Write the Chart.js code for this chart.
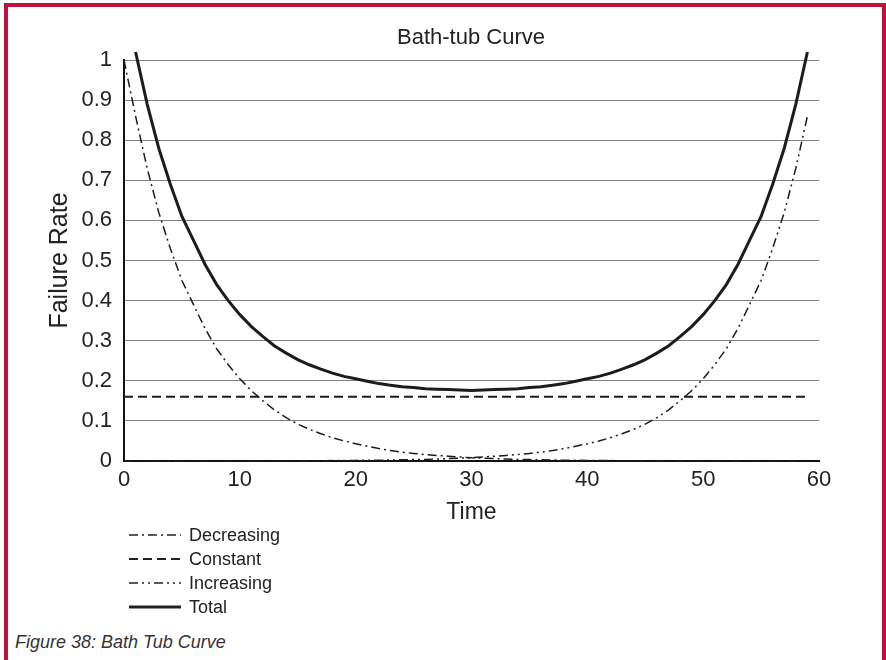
<!DOCTYPE html>
<html>
<head>
<meta charset="utf-8">
<script src="https://cdn.jsdelivr.net/npm/chart.js@4/dist/chart.umd.min.js"></script>
<style>
  html, body { margin: 0; padding: 0; background: #fff; }
  body { width: 886px; height: 660px; position: relative; overflow: hidden; font-family: "Liberation Sans", Arial, sans-serif; color: #222; }
  #frame { position: absolute; left: 4px; top: 3px; width: 882px; height: 680px; box-sizing: border-box;
           border-top: 4px solid #C0103C; border-left: 4px solid #C0103C; border-right: 4px solid #C0103C; }
  #wrap { position: absolute; left: 0; top: 0; width: 886px; height: 530px; }
  #title { position: absolute; left: 271px; width: 400px; top: 24px; text-align: center; font-size: 22px; line-height: 26px; }
  .lg { position: absolute; left: 129px; height: 24px; font-size: 18px; line-height: 24px; white-space: nowrap; }
  .lg svg { position: absolute; left: 0; top: 10px; }
  .lg span { position: absolute; left: 60px; top: 0; }
  #caption { position: absolute; left: 15px; top: 631px; font-size: 18px; line-height: 22px; font-style: italic; color: #333; }
</style>
</head>
<body>
<div id="frame"></div>
<div id="wrap"><canvas id="c" width="886" height="530"></canvas></div>
<div id="title">Bath-tub Curve</div>
<div class="lg" style="top:523px"><svg width="52" height="4"><line x1="0" y1="2" x2="52" y2="2" stroke="#222" stroke-width="1.6" stroke-dasharray="9,4,2,4"/></svg><span>Decreasing</span></div>
<div class="lg" style="top:547px"><svg width="52" height="4"><line x1="0" y1="2" x2="52" y2="2" stroke="#222" stroke-width="2" stroke-dasharray="9,5"/></svg><span>Constant</span></div>
<div class="lg" style="top:571px"><svg width="52" height="4"><line x1="0" y1="2" x2="52" y2="2" stroke="#222" stroke-width="1.6" stroke-dasharray="9,4,2,4,2,4"/></svg><span>Increasing</span></div>
<div class="lg" style="top:595px"><svg width="52" height="4"><line x1="0" y1="2" x2="52" y2="2" stroke="#222" stroke-width="3"/></svg><span>Total</span></div>
<div id="caption">Figure 38: Bath Tub Curve</div>
<script>
const time = [0,1,2,3,4,5,6,7,8,9,10,11,12,13,14,15,16,17,18,19,20,21,22,23,24,25,26,27,28,29,
  30,31,32,33,34,35,36,37,38,39,40,41,42,43,44,45,46,47,48,49,50,51,52,53,54,55,56,57,58,59];
const decreasing = [1.00,0.86,0.73,0.62,0.53,0.45,0.39,0.33,0.28,0.24,0.205,0.175,0.15,0.127,0.108,0.092,0.079,0.068,0.058,0.05,
  0.043,0.037,0.031,0.026,0.022,0.019,0.016,0.014,0.012,0.01,0.008,0.007,0.006,0.005,0.004,0.0035,0.003,0.0025,0.002,0.0018,
  0.0015,0.0012,0.001,0.0008,0.0007,0.0006,0.0005,0.0004,0.0003,0.0003,0.0002,0.0002,0.0001,0.0001,0.0001,0.0001,0,0,0,0];
const constant = [0.16,0.16,0.16,0.16,0.16,0.16,0.16,0.16,0.16,0.16,0.16,0.16,0.16,0.16,0.16,0.16,0.16,0.16,0.16,0.16,
  0.16,0.16,0.16,0.16,0.16,0.16,0.16,0.16,0.16,0.16,0.16,0.16,0.16,0.16,0.16,0.16,0.16,0.16,0.16,0.16,
  0.16,0.16,0.16,0.16,0.16,0.16,0.16,0.16,0.16,0.16,0.16,0.16,0.16,0.16,0.16,0.16,0.16,0.16,0.16,0.16];
const increasing = [0,0,0,0,0,0.0001,0.0001,0.0001,0.0001,0.0002,0.0002,0.0003,0.0003,0.0004,0.0005,0.0006,0.0007,0.0008,0.001,0.0012,
  0.0015,0.0018,0.002,0.0025,0.003,0.0035,0.004,0.005,0.006,0.007,0.008,0.01,0.012,0.014,0.016,0.019,0.022,0.026,0.031,0.037,
  0.043,0.05,0.058,0.068,0.079,0.092,0.108,0.127,0.15,0.175,0.205,0.24,0.28,0.33,0.39,0.45,0.53,0.62,0.73,0.86];
const total = [null,1.02,0.89,0.78,0.69,0.61,0.55,0.49,0.44,0.40,0.365,0.335,0.31,0.287,0.269,0.253,0.240,0.229,0.219,0.211,
  0.205,0.199,0.193,0.189,0.185,0.183,0.180,0.179,0.178,0.177,0.176,0.177,0.178,0.179,0.180,0.183,0.185,0.189,0.193,0.199,
  0.205,0.211,0.219,0.229,0.240,0.253,0.269,0.287,0.31,0.335,0.365,0.40,0.44,0.49,0.55,0.61,0.69,0.78,0.89,1.02];
const xTicks = [0,10,20,30,40,50,60];
const yTicks = [0,0.1,0.2,0.3,0.4,0.5,0.6,0.7,0.8,0.9,1];

const pts = arr => time.map((t, i) => ({x: t, y: arr[i]}));
const FONT = '"Liberation Sans", Arial, sans-serif';
const INK = '#1c1c1c';

new Chart(document.getElementById('c'), {
  type: 'line',
  data: {
    datasets: [
      { label: 'Decreasing', data: pts(decreasing), borderColor: INK, borderWidth: 1.5, borderDash: [9,4,2,4], clip: false },
      { label: 'Constant', data: pts(constant), borderColor: INK, borderWidth: 2, borderDash: [9,5], clip: false },
      { label: 'Increasing', data: pts(increasing), borderColor: INK, borderWidth: 1.5, borderDash: [9,4,2,4,2,4], clip: false },
      { label: 'Total', data: pts(total), borderColor: INK, borderWidth: 3, clip: false, spanGaps: false }
    ]
  },
  options: {
    responsive: false,
    animation: false,
    events: [],
    layout: { padding: { left: 40, right: 67, top: 60, bottom: 0 } },
    elements: { point: { radius: 0 }, line: { tension: 0, fill: false } },
    plugins: { legend: { display: false }, tooltip: { enabled: false }, title: { display: false } },
    scales: {
      x: {
        type: 'linear', min: 0, max: 60,
        afterBuildTicks: s => { s.ticks = xTicks.map(v => ({value: v})); },
        afterFit: s => { s.height = 69; },
        grid: { display: false, drawTicks: false },
        border: { display: true, color: '#111', width: 2 },
        ticks: { color: '#222', font: { family: FONT, size: 22 }, padding: 6, maxRotation: 0 },
        title: { display: true, text: 'Time', color: '#222', font: { family: FONT, size: 23 }, padding: { top: 0, bottom: 4 } }
      },
      y: {
        type: 'linear', min: 0, max: 1,
        afterBuildTicks: s => { s.ticks = yTicks.map(v => ({value: v})); },
        afterFit: s => { s.width = 84; },
        grid: { color: '#808080', lineWidth: 1, drawTicks: false },
        border: { display: true, color: '#111', width: 2 },
        ticks: { color: '#222', font: { family: FONT, size: 22 }, padding: 12, callback: v => String(Math.round(v * 10) / 10) },
        title: { display: true, text: 'Failure Rate', color: '#222', font: { family: FONT, size: 25 }, padding: { top: 5, bottom: 0 } }
      }
    }
  }
});
</script>
</body>
</html>
